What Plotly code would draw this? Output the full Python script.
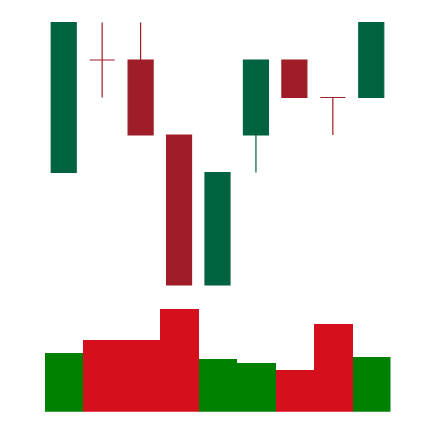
import plotly.graph_objects as go

x = list(range(9))
opens = [4, 7, 7, 5, 1, 5, 7, 6, 6]
highs = [8, 8, 8, 5, 4, 7, 7, 6, 8]
lows = [4, 6, 5, 1, 1, 4, 6, 5, 6]
closes = [8, 7, 5, 1, 4, 7, 6, 6, 8]
volumes = [59, 72, 72, 103, 53, 49, 42, 88, 55]

up_color = "#006340"
down_color = "#9e1d28"
vol_up = "#008000"
vol_down = "#d50f1b"
vol_colors = [vol_up if c > o else vol_down for o, c in zip(opens, closes)]

fig = go.Figure()
fig.add_trace(go.Candlestick(
    x=x, open=opens, high=highs, low=lows, close=closes,
    increasing=dict(line=dict(color=up_color, width=1.2), fillcolor=up_color),
    decreasing=dict(line=dict(color=down_color, width=1.2), fillcolor=down_color),
    xaxis="x", yaxis="y", showlegend=False, hoverinfo="none",
))
fig.add_trace(go.Bar(
    x=x, y=volumes, marker=dict(color=vol_colors, line=dict(width=0)),
    xaxis="x", yaxis="y2", showlegend=False, hoverinfo="none",
))

W, H = 418, 406
off = 8
ax = dict(showgrid=False, zeroline=False, showticklabels=False, showline=False, ticks="")
pad = 2.5 / 37.5
fig.update_layout(
    width=W, height=H,
    margin=dict(l=0, r=0, t=0, b=0),
    paper_bgcolor="white", plot_bgcolor="white",
    bargap=0, boxgap=0.35, boxgroupgap=0,
    xaxis=dict(domain=[(44.5 - off) / W, (390.5 - off) / W], range=[-0.5, 8.5],
               rangeslider=dict(visible=False), **ax),
    yaxis=dict(domain=[1 - (287.5 - off) / H, 1 - (20 - off) / H], range=[1 - pad, 8 + pad], **ax),
    yaxis2=dict(domain=[1 - (411.7 - off) / H, 1 - (309 - off) / H], range=[0, 103], **ax),
)
fig.write_html("out.html")
